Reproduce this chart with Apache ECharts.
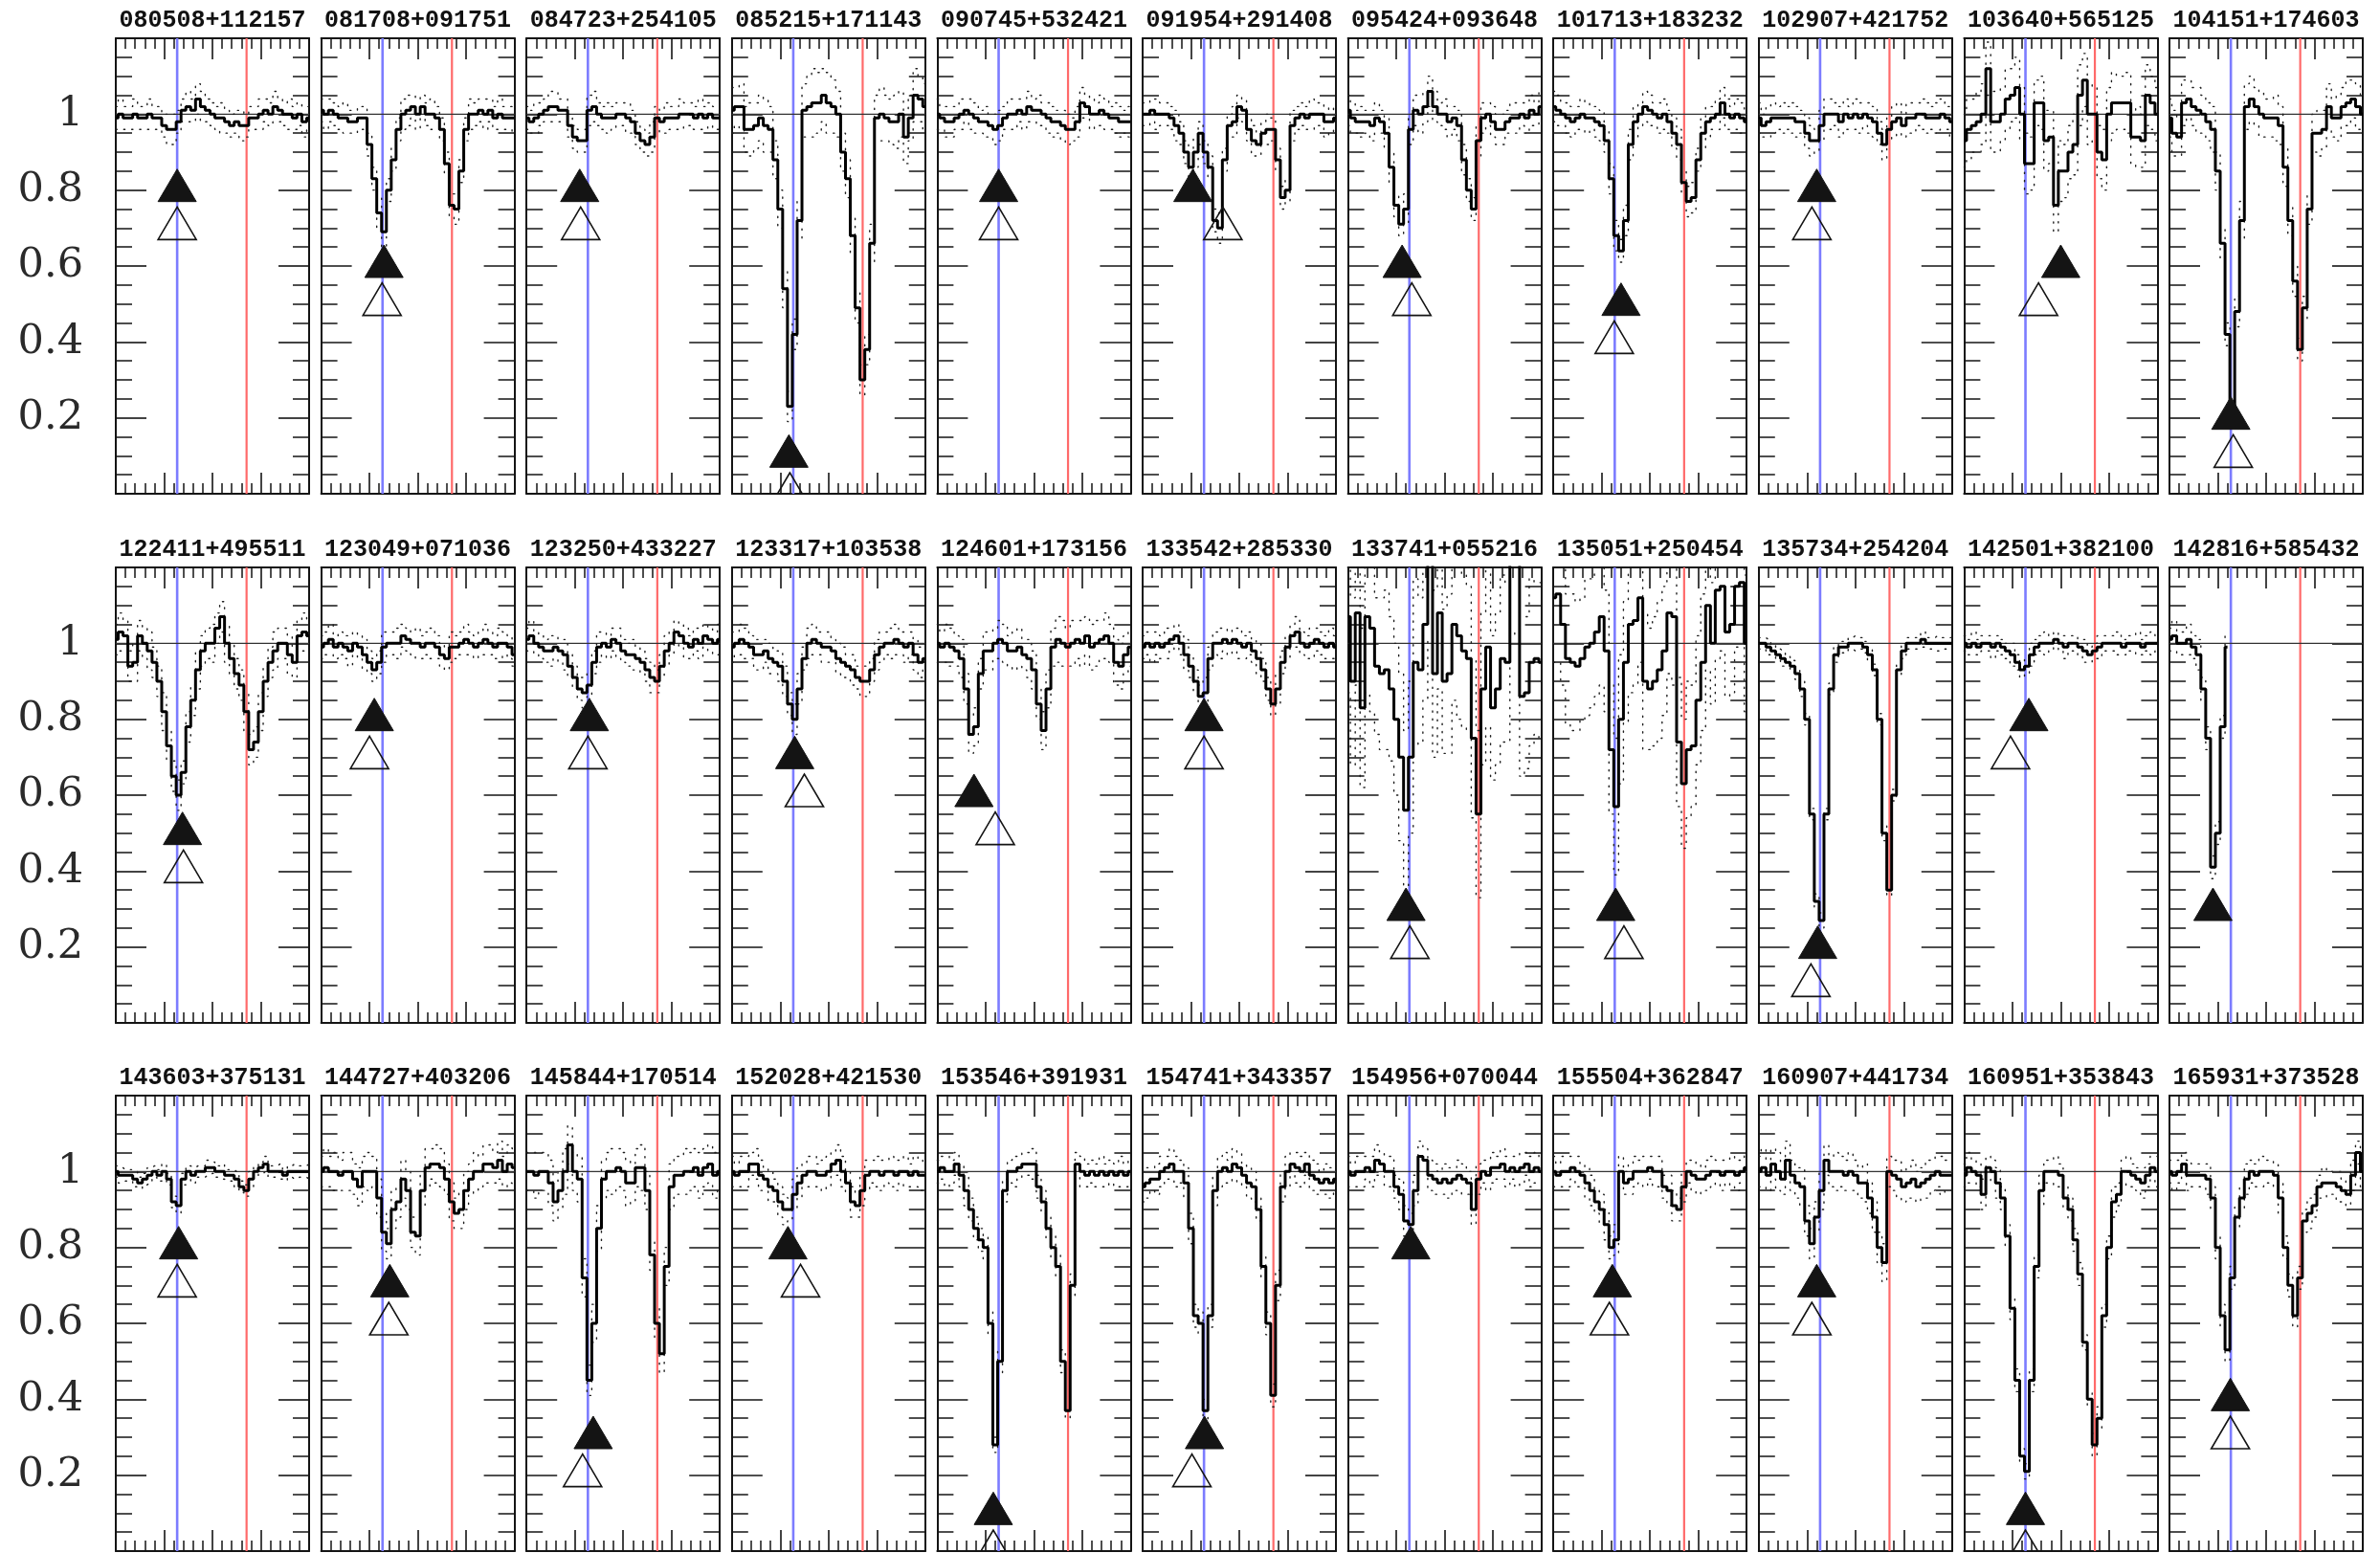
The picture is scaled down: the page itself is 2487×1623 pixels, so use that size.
<!DOCTYPE html>
<html>
<head>
<meta charset="utf-8">
<script src="https://cdn.jsdelivr.net/npm/echarts@6.0.0/dist/echarts.min.js"></script>
<style>
  html, body { margin: 0; padding: 0; background: #ffffff; }
  #chart { width: 2487px; height: 1623px; }
</style>
</head>
<body>
<div id="chart"></div>
<script>
// Rest-frame wavelength grid (Angstrom), 0.5 A bins
const wave = [2790,2790.5,2791,2791.5,2792,2792.5,2793,2793.5,2794,2794.5,
              2795,2795.5,2796,2796.5,2797,2797.5,2798,2798.5,2799,2799.5,
              2800,2800.5,2801,2801.5,2802,2802.5,2803,2803.5,2804,2804.5,
              2805,2805.5,2806,2806.5,2807,2807.5,2808,2808.5,2809,2809.5,2810];

// Mg II doublet rest wavelengths
const lineBlue = 2796.35;
const lineRed = 2803.53;

const yTickLabels = ['', '0.2', '0.4', '0.6', '0.8', '1', ''];

const names = ['080508+112157','081708+091751','084723+254105','085215+171143','090745+532421','091954+291408',
  '095424+093648','101713+183232','102907+421752','103640+565125','104151+174603',
  '122411+495511','123049+071036','123250+433227','123317+103538','124601+173156','133542+285330',
  '133741+055216','135051+250454','135734+254204','142501+382100','142816+585432',
  '143603+375131','144727+403206','145844+170514','152028+421530','153546+391931','154741+343357',
  '154956+070044','155504+362847','160907+441734','160951+353843','165931+373528'];

// Normalised flux per object
const flux01 = [0.99,1.00,0.99,0.99,1.00,0.99,0.99,1.00,0.99,0.99, 0.97,0.96,0.96,0.98,1.01,1.02,1.01,1.04,1.02,1.01, 1.00,0.99,0.99,0.98,0.97,0.98,0.97,0.97,0.99,0.99, 1.00,1.01,1.00,1.02,1.01,1.00,1.00,0.99,1.00,0.98, 0.99];
const flux02 = [1.01,1.00,1.01,1.00,0.99,0.99,0.98,0.98,0.99,0.99, 0.92,0.83,0.74,0.69,0.80,0.88,0.96,1.00,1.01,1.02, 1.00,1.02,1.00,1.00,0.99,0.96,0.87,0.76,0.75,0.85, 0.96,1.00,1.00,1.01,1.00,1.01,0.99,1.00,0.99,0.99, 0.99];
const flux03 = [0.99,0.98,0.99,1.00,1.01,1.02,1.02,1.01,1.01,0.97, 0.94,0.93,0.93,1.01,1.02,1.00,0.99,0.99,0.99,1.00, 1.00,0.99,0.98,0.95,0.93,0.92,0.94,0.99,0.98,0.99, 0.99,0.99,1.00,1.00,1.00,0.99,1.00,0.99,1.00,0.99, 0.99];
const flux04 = [1.01,1.02,1.02,0.96,0.96,0.97,0.99,0.97,0.96,0.88, 0.75,0.54,0.23,0.42,0.72,1.01,1.02,1.03,1.03,1.05, 1.03,1.02,1.00,0.90,0.83,0.68,0.49,0.30,0.38,0.66, 0.99,1.00,0.99,0.98,0.98,1.00,0.94,0.99,1.05,1.04, 1.02];
const flux05 = [1.00,0.99,0.98,0.98,0.99,1.00,1.01,1.00,0.99,0.98, 0.98,0.97,0.96,0.97,0.99,1.00,1.00,1.01,1.00,1.02, 1.01,1.01,1.00,0.99,0.98,0.98,0.97,0.96,0.96,0.98, 1.03,1.02,1.00,1.00,1.01,1.00,0.99,0.99,0.98,0.98, 0.98];
const flux06 = [1.00,1.00,1.01,1.00,1.00,1.00,0.99,0.97,0.95,0.90, 0.86,0.90,0.95,0.90,0.86,0.72,0.70,0.88,0.97,0.98, 1.02,1.01,0.96,0.93,0.92,0.95,0.96,0.96,0.88,0.78, 0.80,0.97,0.99,1.00,0.99,1.00,1.00,1.00,0.98,0.98, 0.99];
const flux07 = [1.01,0.99,0.98,0.98,0.98,0.97,0.99,0.98,0.95,0.86, 0.76,0.71,0.75,0.96,1.01,1.00,1.02,1.06,1.02,1.00, 1.00,0.98,0.99,0.97,0.88,0.80,0.75,0.93,0.99,1.00, 0.98,0.96,0.96,0.98,0.99,0.99,1.00,0.99,1.01,1.00, 1.02];
const flux08 = [1.02,1.01,1.00,0.99,0.98,0.99,1.00,0.99,0.99,0.98, 0.97,0.93,0.83,0.68,0.64,0.72,0.92,0.98,1.00,1.02, 1.01,1.00,0.99,1.00,0.98,0.95,0.92,0.82,0.77,0.78, 0.88,0.95,0.98,0.99,1.00,1.03,1.00,0.99,1.00,0.99, 0.98];
const flux09 = [0.99,0.97,0.98,0.99,0.99,0.99,0.99,0.99,0.98,0.98, 0.95,0.93,0.93,0.97,1.00,1.00,1.00,0.98,1.00,0.99, 1.00,0.99,1.00,0.99,0.98,0.95,0.92,0.96,0.98,0.99, 0.97,0.99,0.99,1.00,1.00,0.99,0.99,0.99,1.00,0.99, 0.98];
const flux10 = [0.93,0.96,0.97,0.98,1.00,1.12,0.98,0.98,1.00,1.04, 1.05,1.07,1.00,0.87,0.87,1.03,1.03,0.93,0.94,0.76, 0.85,0.85,0.90,0.92,1.05,1.09,1.00,1.00,0.90,0.88, 1.00,1.03,1.03,1.03,1.03,0.94,0.94,0.93,1.05,1.03, 1.00];
const flux11 = [0.99,0.95,0.94,1.03,1.04,1.02,1.01,1.00,0.98,0.96, 0.85,0.66,0.42,0.23,0.48,0.72,1.02,1.04,1.02,1.00, 0.99,0.99,0.99,0.97,0.86,0.72,0.56,0.38,0.49,0.75, 0.95,0.95,0.96,1.02,0.99,0.99,1.02,1.03,1.04,1.02, 1.00];
const flux12 = [1.01,1.03,1.02,0.94,0.95,1.02,1.00,0.98,0.95,0.90, 0.82,0.73,0.65,0.60,0.66,0.78,0.85,0.93,0.98,1.00, 1.00,1.04,1.07,1.00,0.96,0.92,0.89,0.82,0.72,0.74, 0.82,0.90,0.95,0.98,1.00,1.00,0.97,0.95,1.02,1.03, 1.02];
const flux13 = [0.99,1.00,1.01,0.99,1.00,0.99,0.98,1.00,0.99,0.97, 0.95,0.93,0.95,0.99,1.00,1.00,1.00,1.02,1.01,1.00, 1.00,0.99,1.00,1.00,0.99,0.97,0.96,0.99,0.99,1.00, 1.01,1.00,0.99,1.00,1.01,1.00,0.99,1.00,1.00,0.99, 0.97];
const flux14 = [1.01,1.02,1.00,0.99,0.98,0.98,0.99,0.98,0.97,0.94, 0.91,0.88,0.87,0.89,0.95,0.99,1.00,0.99,1.01,1.00, 0.98,0.97,0.97,0.96,0.95,0.93,0.91,0.90,0.94,0.98, 1.00,1.03,1.02,1.00,0.99,1.01,1.00,1.02,1.01,1.00, 1.01];
const flux15 = [0.99,1.00,1.01,1.00,0.99,0.97,0.97,0.98,0.96,0.95, 0.94,0.90,0.84,0.80,0.88,0.96,1.00,1.01,1.00,0.99, 0.99,0.98,0.96,0.95,0.94,0.93,0.91,0.90,0.90,0.93, 0.97,0.99,1.00,1.00,1.01,1.00,0.99,1.00,0.97,0.95, 0.96];
const flux16 = [1.00,0.99,1.00,0.99,0.98,0.96,0.88,0.76,0.78,0.92, 0.98,0.98,1.00,1.01,1.00,0.98,0.98,0.99,0.97,0.96, 0.93,0.84,0.77,0.88,0.99,1.01,1.00,0.99,1.00,1.01, 1.00,1.02,0.99,1.00,1.01,1.02,1.00,0.95,0.94,0.97, 0.99];
const flux17 = [0.99,1.00,0.99,1.00,0.99,1.00,1.01,1.02,1.00,0.97, 0.94,0.90,0.86,0.87,0.96,1.00,1.00,1.01,1.00,1.01, 1.00,0.99,1.00,0.98,0.96,0.93,0.88,0.84,0.88,0.95, 0.99,1.02,1.03,1.00,0.99,1.00,1.01,1.00,0.99,1.00, 0.99];
const flux18 = [1.07,0.90,1.08,0.83,1.07,1.04,0.94,0.92,0.93,0.88, 0.80,0.70,0.56,0.70,0.95,0.93,1.05,1.22,0.92,1.08, 0.90,0.92,1.05,1.02,0.98,0.96,0.75,0.55,0.88,0.99, 0.83,0.88,0.96,0.95,1.22,1.22,0.86,0.87,0.95,0.96, 0.95];
const flux19 = [1.12,1.13,1.05,0.96,0.95,0.94,0.96,0.99,1.00,1.03, 1.07,0.98,0.72,0.57,0.80,0.95,1.05,1.06,1.12,0.90, 0.88,0.90,0.93,0.98,1.08,1.07,0.74,0.63,0.72,0.73, 0.85,0.95,1.10,1.00,1.14,1.15,1.03,1.05,1.15,1.16, 1.00];
const flux20 = [1.00,1.00,0.99,0.98,0.97,0.96,0.95,0.94,0.92,0.88, 0.80,0.55,0.32,0.27,0.55,0.88,0.97,0.99,0.99,1.00, 1.00,1.00,0.99,0.97,0.93,0.80,0.50,0.35,0.60,0.93, 0.98,1.00,1.00,1.00,1.01,1.00,1.00,1.00,1.00,1.00, 1.00];
const flux21 = [1.00,0.99,1.00,0.99,1.00,1.00,0.99,1.00,0.99,0.98, 0.97,0.95,0.93,0.94,0.97,0.99,1.00,1.00,1.00,1.01, 1.00,0.99,1.00,1.00,0.99,0.98,0.97,0.98,0.99,1.00, 1.00,1.00,1.00,0.99,1.00,1.00,1.00,0.99,1.00,1.00, 1.00];
const flux22 = [1.01,1.02,1.00,1.00,1.01,0.99,0.97,0.88,0.75,0.41, 0.50,0.78,0.99];
const flux23 = [1.00,0.99,0.99,0.99,0.98,0.97,0.98,0.99,1.00,0.99, 1.00,0.98,0.92,0.91,0.98,1.00,0.99,1.00,1.00,1.01, 1.01,1.00,1.00,0.99,0.99,0.98,0.96,0.95,0.98,1.00, 1.01,1.02,1.00,1.00,1.00,0.99,1.00,1.00,1.00,1.00, 1.00];
const flux24 = [1.00,1.01,1.00,1.00,0.99,1.00,1.00,0.98,0.96,1.00, 1.00,1.00,0.93,0.84,0.81,0.90,0.92,0.98,0.95,0.84, 0.83,0.95,1.01,1.02,1.02,1.01,0.98,0.92,0.89,0.90, 0.95,0.98,1.00,1.00,1.02,1.02,1.01,1.03,1.00,1.02, 1.01];
const flux25 = [1.00,1.00,0.99,1.00,1.00,0.97,0.92,0.95,1.00,1.07, 1.00,0.98,0.72,0.45,0.60,0.85,0.98,1.00,1.00,1.01, 1.00,0.97,0.97,1.01,1.01,0.95,0.78,0.60,0.52,0.75, 0.96,0.99,0.99,1.00,1.00,1.01,0.99,1.01,1.02,0.99, 1.00];
const flux26 = [1.00,0.99,1.00,1.00,1.02,1.02,0.99,0.98,0.96,0.95, 0.92,0.90,0.90,0.94,0.97,0.99,1.00,1.00,0.99,0.99, 1.00,1.02,1.03,1.00,0.97,0.92,0.91,0.95,0.99,1.00, 1.00,0.99,1.00,1.00,0.99,1.00,1.00,0.99,1.00,0.99, 0.99];
const flux27 = [1.00,1.01,1.00,1.00,1.02,0.99,0.95,0.90,0.85,0.82, 0.80,0.60,0.28,0.50,0.95,1.00,1.00,1.01,1.02,1.02, 1.02,0.96,0.92,0.85,0.80,0.75,0.50,0.37,0.70,1.02, 1.00,0.99,1.00,0.99,1.00,0.99,1.00,0.99,1.00,0.99, 1.00];
const flux28 = [0.96,0.97,0.98,0.98,1.00,1.01,1.02,1.00,1.00,0.97, 0.85,0.62,0.60,0.37,0.62,0.95,1.00,1.01,1.00,1.02, 1.01,0.99,0.97,0.96,0.90,0.75,0.60,0.41,0.70,0.96, 1.00,1.02,1.01,1.00,1.02,0.99,0.98,0.97,0.98,0.97, 0.98];
const flux29 = [1.00,0.99,1.00,1.00,1.01,1.00,1.03,1.02,1.00,1.00, 0.96,0.94,0.87,0.86,0.95,1.04,1.03,0.99,0.98,0.97, 0.98,0.97,0.98,0.99,0.98,0.97,0.90,0.98,1.00,0.99, 1.01,1.01,1.02,1.00,1.01,1.00,1.01,1.02,1.00,1.01, 1.00];
const flux30 = [1.00,0.99,1.00,1.00,1.01,1.00,0.99,0.97,0.95,0.92, 0.90,0.86,0.80,0.82,1.00,0.97,0.98,1.00,1.00,1.00, 1.01,1.00,1.00,0.96,0.95,0.91,0.90,0.96,1.00,0.99, 0.98,0.98,0.99,1.00,1.00,0.99,1.00,1.00,0.99,1.00, 1.01];
const flux31 = [1.00,1.01,0.99,1.02,1.00,0.98,1.03,0.99,0.97,0.96, 0.87,0.81,0.88,0.95,1.03,1.00,1.00,1.00,0.99,1.00, 0.99,0.97,0.97,0.93,0.88,0.80,0.76,1.00,0.99,0.98, 0.96,0.97,0.98,0.96,0.97,0.98,0.99,1.00,0.99,0.99, 0.99];
const flux32 = [0.99,1.01,1.00,0.99,0.94,1.01,1.00,0.97,0.93,0.83, 0.64,0.45,0.25,0.21,0.45,0.75,0.95,1.00,1.00,1.00, 0.99,0.93,0.90,0.82,0.73,0.55,0.40,0.28,0.35,0.62, 0.80,0.92,0.94,1.00,1.00,0.99,0.98,0.97,0.99,1.01, 1.00];
const flux33 = [1.00,0.99,1.00,1.02,0.99,0.99,0.99,0.99,0.98,0.93, 0.80,0.62,0.53,0.72,0.88,0.93,0.98,1.00,0.99,1.00, 1.00,1.00,0.99,0.93,0.80,0.70,0.62,0.72,0.87,0.89, 0.91,0.96,0.97,0.97,0.97,0.96,0.95,0.94,0.99,1.05, 1.00];

// 1-sigma flux errors per object
const err01 = [.03,.04,.03,.03,.04,.03,.03,.04,.03,.03, .03,.04,.04,.03,.03,.04,.03,.04,.04,.03, .03,.03,.04,.03,.03,.03,.04,.03,.03,.03, .04,.03,.03,.04,.03,.03,.04,.03,.03,.04, .03];
const err02 = [.03,.04,.03,.03,.03,.04,.03,.03,.03,.03, .03,.03,.04,.04,.03,.03,.03,.04,.04,.03, .04,.03,.03,.04,.03,.03,.03,.03,.04,.03, .03,.04,.03,.03,.04,.03,.03,.04,.03,.03, .04];
const err03 = [.03,.03,.04,.03,.03,.04,.04,.03,.03,.03, .03,.03,.03,.04,.04,.03,.03,.04,.03,.03, .03,.04,.03,.03,.03,.03,.04,.03,.03,.04, .03,.03,.04,.03,.03,.03,.04,.03,.03,.03, .03];
const err04 = [.06,.05,.06,.06,.07,.06,.06,.07,.06,.05, .05,.05,.04,.04,.05,.07,.08,.09,.08,.07, .08,.07,.06,.05,.05,.05,.04,.04,.04,.05, .06,.07,.06,.06,.07,.06,.07,.06,.07,.06, .06];
const err05 = [.04,.03,.04,.04,.03,.04,.03,.04,.04,.03, .04,.03,.04,.04,.03,.04,.04,.03,.04,.04, .03,.04,.03,.04,.04,.03,.04,.04,.03,.04, .04,.03,.04,.03,.04,.04,.03,.04,.04,.03, .04];
const err06 = [.03,.03,.03,.04,.03,.03,.03,.04,.03,.03, .03,.04,.03,.03,.03,.03,.04,.03,.03,.04, .03,.03,.03,.04,.03,.03,.04,.03,.03,.03, .03,.04,.03,.03,.03,.04,.03,.03,.04,.03, .03];
const err07 = [.04,.04,.03,.04,.03,.04,.04,.03,.04,.04, .03,.03,.04,.04,.04,.05,.04,.04,.04,.03, .04,.04,.03,.04,.04,.03,.03,.04,.04,.03, .04,.04,.04,.03,.04,.04,.03,.04,.04,.03, .04];
const err08 = [.04,.04,.03,.04,.04,.03,.04,.04,.03,.04, .04,.03,.04,.04,.03,.04,.04,.04,.03,.04, .04,.03,.04,.04,.03,.04,.04,.03,.04,.04, .03,.04,.04,.03,.04,.04,.04,.03,.04,.04, .03];
const err09 = [.04,.03,.04,.04,.03,.04,.03,.04,.04,.03, .04,.04,.03,.04,.04,.04,.03,.04,.04,.03, .04,.04,.03,.04,.04,.03,.04,.03,.04,.04, .03,.04,.04,.03,.04,.04,.03,.04,.04,.03, .04];
const err10 = [.07,.08,.07,.08,.08,.07,.08,.08,.07,.08, .07,.08,.07,.08,.07,.06,.07,.08,.07,.07, .08,.07,.07,.08,.08,.07,.08,.07,.07,.08, .07,.08,.07,.07,.08,.07,.08,.07,.08,.07, .07];
const err11 = [.05,.06,.05,.06,.05,.05,.06,.05,.05,.06, .05,.04,.03,.03,.04,.05,.06,.06,.05,.06, .05,.05,.06,.05,.05,.04,.04,.03,.03,.04, .05,.06,.05,.06,.05,.06,.05,.06,.05,.06, .05];
const err12 = [.04,.05,.04,.04,.05,.04,.04,.05,.04,.04, .05,.04,.04,.04,.03,.04,.04,.05,.04,.04, .05,.04,.04,.05,.04,.04,.04,.05,.04,.04, .05,.04,.04,.05,.04,.04,.05,.04,.04,.05, .04];
const err13 = [.03,.03,.04,.03,.03,.03,.04,.03,.03,.04, .03,.03,.03,.04,.03,.03,.04,.03,.03,.03, .04,.03,.03,.04,.03,.03,.03,.04,.03,.03, .04,.03,.03,.03,.04,.03,.03,.04,.03,.03, .03];
const err14 = [.03,.04,.03,.03,.03,.04,.03,.03,.04,.03, .03,.03,.04,.03,.03,.04,.03,.03,.03,.04, .03,.03,.04,.03,.03,.03,.04,.03,.03,.04, .03,.03,.03,.04,.03,.03,.04,.03,.03,.03, .04];
const err15 = [.04,.03,.04,.04,.03,.04,.04,.03,.04,.03, .04,.04,.03,.04,.04,.03,.04,.04,.03,.04, .04,.03,.04,.04,.03,.04,.03,.04,.04,.03, .04,.04,.03,.04,.04,.03,.04,.03,.04,.04, .03];
const err16 = [.05,.04,.05,.05,.04,.05,.04,.05,.05,.04, .05,.05,.04,.05,.05,.04,.05,.05,.04,.05, .05,.04,.05,.05,.05,.06,.06,.05,.06,.05, .06,.05,.06,.06,.05,.06,.05,.06,.06,.05, .05];
const err17 = [.03,.03,.04,.03,.03,.04,.03,.03,.03,.04, .03,.03,.03,.04,.03,.03,.04,.03,.03,.03, .04,.03,.03,.03,.04,.03,.03,.03,.04,.03, .03,.03,.04,.03,.03,.04,.03,.03,.03,.04, .03];
const err18 = [.20,.22,.19,.21,.20,.22,.18,.20,.21,.19, .20,.22,.21,.20,.22,.19,.20,.21,.22,.20, .19,.21,.20,.22,.20,.19,.21,.22,.20,.21, .19,.20,.22,.21,.20,.19,.21,.20,.22,.20, .21];
const err19 = [.17,.18,.16,.17,.18,.17,.16,.18,.17,.17, .18,.16,.17,.18,.17,.16,.18,.17,.17,.18, .16,.17,.18,.17,.16,.18,.17,.17,.18,.16, .17,.18,.17,.16,.18,.17,.17,.18,.16,.17, .18];
const err20 = [.015,.015,.02,.015,.015,.02,.015,.015,.015,.02, .015,.015,.02,.02,.015,.015,.02,.015,.015,.015, .02,.015,.015,.02,.015,.015,.02,.015,.015,.015, .02,.015,.015,.015,.02,.015,.015,.02,.015,.015, .015];
const err21 = [.02,.02,.03,.02,.02,.02,.03,.02,.02,.02, .03,.02,.02,.02,.03,.02,.02,.03,.02,.02, .02,.03,.02,.02,.02,.03,.02,.02,.03,.02, .02,.02,.03,.02,.02,.02,.03,.02,.02,.03, .02];
const err22 = [.03,.04,.03,.03,.04,.03,.04,.03,.03,.03, .03,.03,.03];
const err23 = [.015,.02,.015,.015,.02,.015,.015,.02,.015,.015, .02,.015,.015,.02,.015,.015,.02,.015,.015,.02, .015,.015,.02,.015,.015,.02,.015,.015,.02,.015, .015,.02,.015,.015,.02,.015,.015,.02,.015,.015, .02];
const err24 = [.04,.05,.04,.05,.04,.05,.05,.04,.05,.04, .05,.04,.05,.05,.04,.05,.04,.05,.05,.04, .05,.04,.05,.04,.05,.05,.04,.05,.04,.05, .05,.04,.05,.04,.05,.05,.04,.05,.04,.05, .05];
const err25 = [.05,.05,.06,.05,.05,.06,.05,.05,.06,.05, .05,.06,.05,.04,.05,.06,.05,.05,.06,.05, .05,.06,.05,.05,.06,.05,.04,.04,.05,.05, .06,.05,.05,.06,.05,.05,.06,.05,.05,.06, .05];
const err26 = [.04,.03,.04,.04,.03,.04,.04,.03,.04,.03, .04,.04,.03,.04,.04,.03,.04,.04,.03,.04, .04,.03,.04,.04,.03,.04,.03,.04,.04,.03, .04,.04,.03,.04,.04,.03,.04,.03,.04,.04, .03];
const err27 = [.03,.03,.04,.03,.03,.03,.04,.03,.03,.03, .03,.03,.02,.03,.03,.03,.04,.03,.03,.03, .04,.03,.03,.03,.03,.03,.03,.02,.03,.03, .04,.03,.03,.03,.04,.03,.03,.03,.04,.03, .03];
const err28 = [.04,.04,.03,.04,.04,.03,.04,.04,.03,.04, .04,.03,.03,.03,.03,.04,.04,.04,.03,.04, .04,.03,.04,.04,.03,.03,.03,.03,.04,.04, .04,.03,.04,.04,.03,.04,.04,.03,.04,.04, .03];
const err29 = [.04,.03,.04,.04,.03,.04,.04,.03,.04,.04, .03,.04,.04,.03,.04,.04,.03,.04,.04,.03, .04,.04,.03,.04,.04,.03,.04,.04,.03,.04, .04,.03,.04,.04,.03,.04,.04,.03,.04,.04, .03];
const err30 = [.04,.03,.04,.04,.03,.04,.03,.04,.04,.03, .04,.04,.03,.04,.04,.03,.04,.04,.03,.04, .03,.04,.04,.03,.04,.04,.03,.04,.03,.04, .04,.03,.04,.04,.03,.04,.03,.04,.04,.03, .04];
const err31 = [.04,.05,.04,.04,.05,.04,.05,.04,.04,.05, .04,.04,.04,.05,.04,.04,.05,.04,.04,.05, .04,.04,.05,.04,.04,.04,.05,.04,.04,.05, .04,.04,.05,.04,.04,.05,.04,.04,.05,.04, .04];
const err32 = [.03,.04,.03,.03,.04,.03,.03,.04,.03,.03, .03,.03,.02,.02,.03,.03,.04,.03,.03,.04, .03,.03,.03,.03,.03,.02,.02,.03,.03,.03, .03,.04,.03,.03,.04,.03,.03,.04,.03,.03, .04];
const err33 = [.03,.04,.03,.03,.04,.03,.03,.03,.04,.03, .03,.03,.03,.03,.03,.03,.04,.03,.03,.04, .03,.03,.03,.04,.03,.03,.03,.03,.03,.04, .03,.03,.04,.03,.03,.04,.03,.03,.04,.03, .04];

// Marker positions: filled and open triangles (wavelength, flux level)
const filledX = [2796.35,2796.5,2795.5,2795.9,2796.35,2795.2,2795.6,2797.0,2796.0,2800.0,2796.35,
                 2796.9,2795.5,2796.5,2796.5,2793.8,2796.35,2796.0,2796.45,2796.1,2796.7,2794.5,
                 2796.5,2797.1,2796.9,2795.8,2795.8,2796.4,2796.5,2796.1,2796.0,2796.35,2796.3];
const filledY = [0.8,0.6,0.8,0.1,0.8,0.8,0.6,0.5,0.8,0.6,0.2,
                 0.5,0.8,0.8,0.7,0.6,0.8,0.3,0.3,0.2,0.8,0.3,
                 0.8,0.7,0.3,0.8,0.1,0.3,0.8,0.7,0.7,0.1,0.4];
const openX = [2796.35,2796.3,2795.6,2796.0,2796.35,2798.3,2796.6,2796.3,2795.5,2797.7,2796.6,
               2797.0,2795.0,2796.35,2797.5,2796.0,2796.35,2796.4,2797.3,2795.4,2794.8,null,
               2796.35,2797.0,2795.8,2797.1,2795.8,2795.1,null,2795.8,2795.5,2796.35,2796.3];
const openY = [0.7,0.5,0.7,0.0,0.7,0.7,0.5,0.4,0.7,0.5,0.1,
               0.4,0.7,0.7,0.6,0.5,0.7,0.2,0.2,0.1,0.7,null,
               0.7,0.6,0.2,0.7,0.0,0.2,null,0.6,0.6,0.0,0.3];

const fluxList = [flux01,flux02,flux03,flux04,flux05,flux06,flux07,flux08,flux09,flux10,flux11,
                  flux12,flux13,flux14,flux15,flux16,flux17,flux18,flux19,flux20,flux21,flux22,
                  flux23,flux24,flux25,flux26,flux27,flux28,flux29,flux30,flux31,flux32,flux33];
const errList = [err01,err02,err03,err04,err05,err06,err07,err08,err09,err10,err11,
                 err12,err13,err14,err15,err16,err17,err18,err19,err20,err21,err22,
                 err23,err24,err25,err26,err27,err28,err29,err30,err31,err32,err33];

// ---- layout ----
const COLS = 11;
const PANEL_W = 202, PANEL_H = 476;
const LEFT0 = 121, STEP_X = 214.6;
const ROW_TOP = [40, 593, 1145];
const INK = '#141414';

function xAxisCfg(g, pos) {
  return {
    gridIndex: g, type: 'value', position: pos, min: 2790, max: 2810, interval: 5,
    axisLine: { show: true, onZero: false, lineStyle: { color: INK, width: 2 } },
    axisTick: { show: true, inside: true, length: 22, lineStyle: { color: INK, width: 1.6 } },
    minorTick: { show: true, splitNumber: 5, length: 11, lineStyle: { color: INK, width: 1.5 } },
    axisLabel: { show: false }, splitLine: { show: false }, minorSplitLine: { show: false }
  };
}
function yAxisCfg(g, pos, withLabels) {
  return {
    gridIndex: g, type: 'value', position: pos, min: 0, max: 1.2, interval: 0.2,
    axisLine: { show: true, onZero: false, lineStyle: { color: INK, width: 2 } },
    axisTick: { show: true, inside: true, length: 32, lineStyle: { color: INK, width: 1.6 } },
    minorTick: { show: true, splitNumber: 4, length: 17, lineStyle: { color: INK, width: 1.5 } },
    axisLabel: {
      show: withLabels, margin: 34, fontFamily: 'DejaVu Serif', fontSize: 43, color: '#2a2a2a',
      formatter: v => yTickLabels[Math.round(v / 0.2)] || ''
    },
    splitLine: { show: false }, minorSplitLine: { show: false }
  };
}
function triangleRenderer(filled) {
  return function (params, api) {
    const p = api.coord([api.value(0), api.value(1)]);
    return {
      type: 'polygon',
      shape: { points: [[p[0], p[1] - 22], [p[0] - 20, p[1] + 12], [p[0] + 20, p[1] + 12]] },
      style: filled ? { fill: INK, stroke: INK, lineWidth: 1 }
                    : { fill: 'none', stroke: INK, lineWidth: 1.6 }
    };
  };
}

const grid = [], xAxis = [], yAxis = [], series = [], title = [];

for (let k = 0; k < names.length; k++) {
  const row = Math.floor(k / COLS), col = k % COLS;
  const left = LEFT0 + col * STEP_X, top = ROW_TOP[row];
  grid.push({ left: left, top: top, width: PANEL_W, height: PANEL_H, containLabel: false, outerBoundsMode: 'none' });
  xAxis.push(xAxisCfg(k, 'bottom'), xAxisCfg(k, 'top'));
  yAxis.push(yAxisCfg(k, 'left', col === 0), yAxisCfg(k, 'right', false));
  title.push({
    text: names[k], left: left + PANEL_W / 2, top: top - 31, textAlign: 'center', padding: 0,
    textStyle: { fontFamily: 'Liberation Mono', fontWeight: 'bold', fontSize: 25, color: '#111' }
  });

  const xi = 2 * k, yi = 2 * k;
  const flux = fluxList[k], err = errList[k];
  const common = { xAxisIndex: xi, yAxisIndex: yi, silent: true, animation: false, symbol: 'none', showSymbol: false };

  // doublet markers
  series.push(Object.assign({ type: 'line', z: 1, data: [[lineBlue, 0], [lineBlue, 1.2]],
    lineStyle: { color: '#7c7cff', width: 2.6 } }, common));
  series.push(Object.assign({ type: 'line', z: 1, data: [[lineRed, 0], [lineRed, 1.2]],
    lineStyle: { color: '#ff6a6a', width: 2.2 } }, common));
  // continuum level
  series.push(Object.assign({ type: 'line', z: 2, data: [[2790, 1], [2810, 1]],
    lineStyle: { color: '#333', width: 1.2 } }, common));

  const upper = [], lower = [], main = [];
  for (let i = 0; i < flux.length; i++) {
    main.push([wave[i], flux[i]]);
    upper.push([wave[i], +(flux[i] + err[i]).toFixed(3)]);
    lower.push([wave[i], +(flux[i] - err[i]).toFixed(3)]);
  }
  // error envelope drawn as sparse dots
  [upper, lower].forEach(d => series.push(Object.assign({ type: 'line', z: 3, step: 'middle', data: d,
    lineStyle: { color: '#1e1e1e', width: 1.4, type: [1.3, 7], cap: 'round' } }, common)));
  series.push(Object.assign({ type: 'line', z: 4, step: 'middle', data: main,
    lineStyle: { color: '#000', width: 3 } }, common));

  series.push({ type: 'custom', xAxisIndex: xi, yAxisIndex: yi, z: 6, clip: true, silent: true, animation: false,
    data: [[filledX[k], filledY[k]]], renderItem: triangleRenderer(true) });
  if (openX[k] !== null) {
    series.push({ type: 'custom', xAxisIndex: xi, yAxisIndex: yi, z: 6, clip: true, silent: true, animation: false,
      data: [[openX[k], openY[k]]], renderItem: triangleRenderer(false) });
  }
}

const chart = echarts.init(document.getElementById('chart'), null, { renderer: 'canvas', width: 2487, height: 1623 });
chart.setOption({
  backgroundColor: '#ffffff',
  animation: false,
  title: title,
  grid: grid,
  xAxis: xAxis,
  yAxis: yAxis,
  series: series
});
</script>
</body>
</html>
